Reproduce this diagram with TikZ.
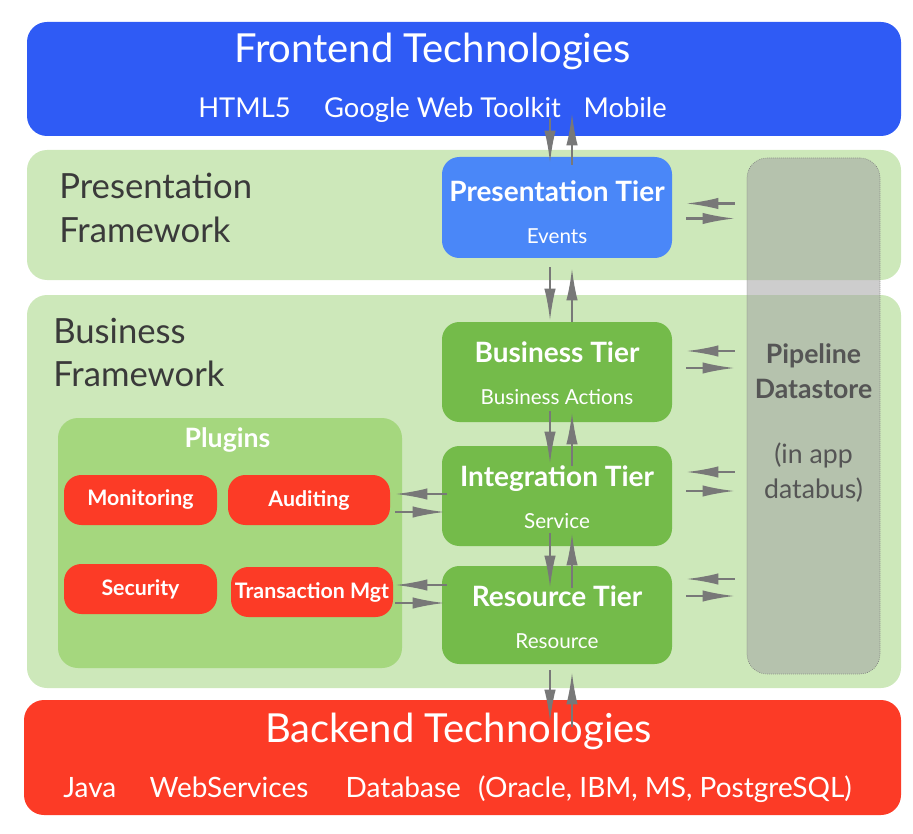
\documentclass[tikz,border=0pt]{standalone}
\usepackage{fontspec}
\setmainfont{Lato}
\usetikzlibrary{arrows.meta,calc}

\definecolor{frontblue}{RGB}{47,91,245}
\definecolor{tierblue}{RGB}{74,135,248}
\definecolor{bandgreen}{RGB}{205,232,186}
\definecolor{tiergreen}{RGB}{116,187,74}
\definecolor{plugingreen}{RGB}{165,215,126}
\definecolor{backred}{RGB}{252,59,38}
\definecolor{flowgray}{RGB}{120,120,120}
\definecolor{labelgray}{RGB}{58,58,58}
\definecolor{storegray}{RGB}{162,162,162}
\definecolor{storetext}{RGB}{85,85,85}

\newcommand{\tiersubfont}{\fontsize{15.5}{31.5}\selectfont\mdseries}

\tikzset{
  techbox/.style={rounded corners=15pt, minimum width=655.5pt, minimum height=85.5pt, inner sep=0pt},
  band/.style={rounded corners=15pt, fill=bandgreen, minimum width=655.5pt, inner sep=0pt},
  bandlabel/.style={anchor=north west, inner sep=0pt, align=left, text=labelgray, font=\fontsize{26}{32.5}\selectfont},
  tier/.style={rounded corners=13pt, fill=tiergreen, text=white, align=center, minimum width=172.5pt, minimum height=75pt, font=\fontsize{21}{31.5}\selectfont\bfseries, text height=48.5pt},
  plugin/.style={rounded corners=13pt, fill=backred, text=white, inner xsep=2pt, minimum height=37.5pt, font=\fontsize{16}{19}\selectfont\bfseries},
  bigtitle/.style={anchor=base, text=white, inner sep=0pt, font=\fontsize{30}{36}\selectfont},
  techlist/.style={anchor=base, text=white, inner sep=0pt, font=\fontsize{21}{25}\selectfont},
  flow/.style={draw=flowgray, line width=1.6pt, -{Latex[length=24pt,width=8.5pt]}},
}

\begin{document}
\begin{tikzpicture}[x=0.75pt, y=-0.75pt]
\useasboundingbox (0,0) rectangle (913,834);

% outer layers
\node[techbox, fill=frontblue] (front) at (464,79) {};
\node[bigtitle] (fronttitle) at (432.5,63) {Frontend Technologies};
\node[techlist, font=\fontsize{20.5}{25}\selectfont] (frontlist) at (432.5,118) {HTML5\hspace{25pt}Google Web Toolkit\hspace{17pt}Mobile};

\node[band, minimum height=97.5pt] (presband) at (464,215) {};
\node[bandlabel] (preslabel) at (59,173) {Presentation\\Framework};

\node[band, minimum height=294.75pt] (busband) at (464,491.5) {};
\node[bandlabel] (buslabel) at (53,318) {Business\\Framework};

\node[techbox, fill=backred, minimum width=657.75pt, minimum height=86.25pt] (back) at (462.5,757.5) {};
\node[bigtitle] (backtitle) at (458.5,742) {Backend Technologies};
\node[techlist] (backlist) at (457.5,797) {Java\hspace{25pt}WebServices\hspace{28pt}Database\hspace{13pt}(Oracle, IBM, MS, PostgreSQL)};

% tiers
\node[tier, fill=tierblue, minimum height=75.75pt, text height=54.5pt] (pres) at (557,207.5) {Presentation Tier\\{\tiersubfont Events}};
\node[tier] (bus) at (557,372) {Business Tier\\{\tiersubfont Business Actions}};
\node[tier] (int) at (557,496) {Integration Tier\\{\tiersubfont Service}};
\node[tier, minimum height=73.5pt, text height=51pt] (res) at (557,615) {Resource Tier\\{\tiersubfont Resource}};

% datastore
\node[rounded corners=15pt, fill=storegray, fill opacity=0.54, draw=flowgray, densely dotted, line width=0.5pt, minimum width=99.75pt, minimum height=387pt] (store) at (813.5,416) {};
\node[anchor=north, align=center, text=storetext, inner sep=0pt, font=\fontsize{20}{26.5}\selectfont] (storelabel) at (813.5,343) {\textbf{Pipeline}\\\textbf{Datastore}\\[22pt](in app\\databus)};

% plugins
\node[rounded corners=15pt, fill=plugingreen, minimum width=258pt, minimum height=187.5pt] (plugins) at (230,543) {};
\node[anchor=base, text=white, inner sep=0pt, font=\fontsize{20}{24}\selectfont\bfseries] (pluginstitle) at (227.5,447) {Plugins};
\node[plugin, minimum width=114.75pt] (monitor) at (140.5,500) {Monitoring};
\node[plugin, minimum width=121.5pt] (audit) at (309,500) {Auditing};
\node[plugin, minimum width=114.75pt] (secure) at (140.5,589) {Security};
\node[plugin, minimum width=121.5pt] (trans) at (312,592) {Transaction Mgt};

% vertical flows
\draw[flow] ($(pres.north |- front.south)+(-7,-18)$) -- ($(pres.north)+(-7,6)$);
\draw[flow] ($(pres.north)+(15,8)$) -- ($(pres.north |- front.south)+(15,-23)$);
\draw[flow] ($(pres.south)+(-7,9)$) -- ($(bus.north)+(-7,-1)$);
\draw[flow] ($(bus.north)+(15,0)$) -- ($(pres.south)+(15,10)$);
\draw[flow] ($(bus.south)+(-7,-11)$) -- ($(int.north)+(-7,18)$);
\draw[flow] ($(int.north)+(15,20)$) -- ($(bus.south)+(15,-10)$);
\draw[flow] ($(int.south)+(-7,-13)$) -- ($(res.north)+(-7,22)$);
\draw[flow] ($(res.north)+(15,22)$) -- ($(int.south)+(15,-13)$);
\draw[flow] ($(res.south)+(-7,6)$) -- ($(back.north -| res.south)+(-7,22)$);
\draw[flow] ($(back.north -| res.south)+(15,27)$) -- ($(res.south)+(15,8)$);

% datastore flows
\draw[flow] ($(store.west |- pres.east)+(-12,-4)$) -- ($(pres.east)+(14,-4)$);
\draw[flow] ($(pres.east)+(14,11)$) -- ($(store.west |- pres.east)+(-12,11)$);
\draw[flow] ($(store.west |- bus.east)+(-12,-21)$) -- ($(bus.east)+(14,-21)$);
\draw[flow] ($(bus.east)+(14,-4)$) -- ($(store.west |- bus.east)+(-12,-4)$);
\draw[flow] ($(store.west |- int.east)+(-12,-24)$) -- ($(int.east)+(14,-24)$);
\draw[flow] ($(int.east)+(14,-5)$) -- ($(store.west |- int.east)+(-12,-5)$);
\draw[flow] ($(store.west |- res.east)+(-12,-36)$) -- ($(res.east)+(14,-36)$);
\draw[flow] ($(res.east)+(14,-19)$) -- ($(store.west |- res.east)+(-12,-19)$);

% plugin flows
\draw[flow] ($(int.west)+(5,-2)$) -- ($(audit.east |- int.west)+(5,-2)$);
\draw[flow] ($(audit.east |- int.west)+(5,16)$) -- ($(int.west)+(3,16)$);
\draw[flow] ($(res.west)+(5,-30)$) -- ($(trans.east |- res.west)+(2,-30)$);
\draw[flow] ($(trans.east |- res.west)+(2,-12)$) -- ($(res.west)+(3,-12)$);
\end{tikzpicture}
\end{document}
